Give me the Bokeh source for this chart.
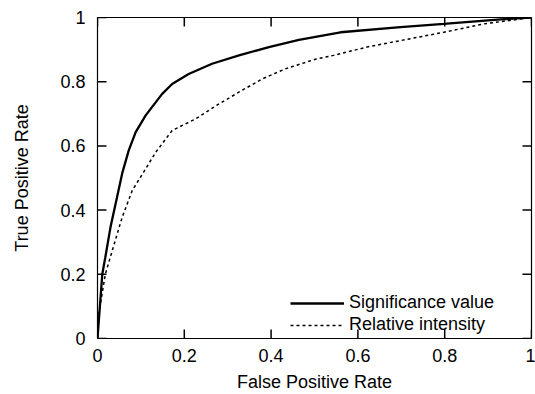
from bokeh.plotting import figure
from bokeh.models import LinearAxis, FixedTicker, Legend, LegendItem, Range1d
from bokeh.embed import file_html
from bokeh.resources import INLINE

# ---- data ----
fpr_sig = [0, 0.011, 0.018, 0.03, 0.045, 0.057, 0.072, 0.088, 0.111, 0.149, 0.172,
           0.21, 0.264, 0.326, 0.395, 0.464, 0.56, 0.698, 0.798, 0.929, 1.0]
tpr_sig = [0, 0.2, 0.253, 0.347, 0.44, 0.515, 0.586, 0.643, 0.695, 0.762, 0.793,
           0.824, 0.856, 0.882, 0.908, 0.93, 0.954, 0.97, 0.98, 0.994, 1.0]

fpr_rel = [0, 0.003, 0.018, 0.034, 0.057, 0.08, 0.107, 0.134, 0.172, 0.226, 0.28,
           0.333, 0.38, 0.433, 0.502, 0.544, 0.621, 0.698, 0.798, 0.89, 1.0]
tpr_rel = [0, 0.077, 0.2, 0.274, 0.378, 0.461, 0.52, 0.58, 0.648, 0.684, 0.731,
           0.773, 0.809, 0.84, 0.87, 0.882, 0.908, 0.928, 0.954, 0.98, 1.0]

series_names = ["Significance value", "Relative intensity"]
tick_values = [0, 0.2, 0.4, 0.6, 0.8, 1]
tick_labels = ["0", "0.2", "0.4", "0.6", "0.8", "1"]
x_title = "False Positive Rate"
y_title = "True Positive Rate"

FONT = "Liberation Sans"
FS = "18px"

W, H = 535, 394
BL, BR, BT, BB = 97, 4, 17, 56
FW, FH = W - BL - BR, H - BT - BB   # frame size in px
TICK = 9                            # tick length in px

p = figure(width=W, height=H, output_backend="svg", toolbar_location=None,
           x_range=Range1d(0, 1), y_range=Range1d(0, 1),
           min_border_left=BL, min_border_right=BR, min_border_top=BT, min_border_bottom=BB,
           x_axis_location=None, y_axis_location=None)
p.grid.visible = False
p.outline_line_color = "black"
p.outline_line_width = 1.2
p.background_fill_color = "white"
p.border_fill_color = "white"

overrides = {v: l for v, l in zip(tick_values, tick_labels)}

def make_axis():
    ax = LinearAxis(ticker=FixedTicker(ticks=tick_values))
    ax.major_tick_in = 0
    ax.major_tick_out = 0
    ax.minor_tick_in = 0
    ax.minor_tick_out = 0
    ax.axis_line_color = "black"
    ax.major_label_overrides = overrides
    ax.major_label_text_font = FONT
    ax.major_label_text_font_size = FS
    ax.major_label_text_color = "black"
    ax.axis_label_text_font = FONT
    ax.axis_label_text_font_size = FS
    ax.axis_label_text_font_style = "normal"
    ax.axis_label_text_color = "black"
    return ax

xb = make_axis()
xb.axis_label = x_title
xb.major_label_standoff = 10
xb.axis_label_standoff = 7
p.add_layout(xb, "below")

yl = make_axis()
yl.axis_label = y_title
yl.major_label_standoff = 12
yl.axis_label_standoff = 25
p.add_layout(yl, "left")

# inward ticks on all four edges (mirrored, gnuplot style)
n = len(tick_values)
dy = TICK / FH
dx = TICK / FW
tick_style = dict(line_color="black", line_width=1.5)
p.segment(x0=tick_values, y0=[0] * n, x1=tick_values, y1=[dy] * n, **tick_style)
p.segment(x0=tick_values, y0=[1] * n, x1=tick_values, y1=[1 - dy] * n, **tick_style)
p.segment(x0=[0] * n, y0=tick_values, x1=[dx] * n, y1=tick_values, **tick_style)
p.segment(x0=[1] * n, y0=tick_values, x1=[1 - dx] * n, y1=tick_values, **tick_style)

r1 = p.line(fpr_sig, tpr_sig, line_color="black", line_width=2.3)
r2 = p.line(fpr_rel, tpr_rel, line_color="black", line_width=1.5, line_dash="3 3")

legend = Legend(items=[LegendItem(label=series_names[0], renderers=[r1]),
                       LegendItem(label=series_names[1], renderers=[r2])],
                location=(193, 3), padding=5, spacing=1,
                label_height=20, glyph_height=20, glyph_width=54,
                label_text_font=FONT, label_text_font_size=FS,
                label_text_color="black",
                border_line_color=None, background_fill_alpha=0)
p.add_layout(legend, "center")

open("out.html", "w").write(file_html(p, INLINE))
